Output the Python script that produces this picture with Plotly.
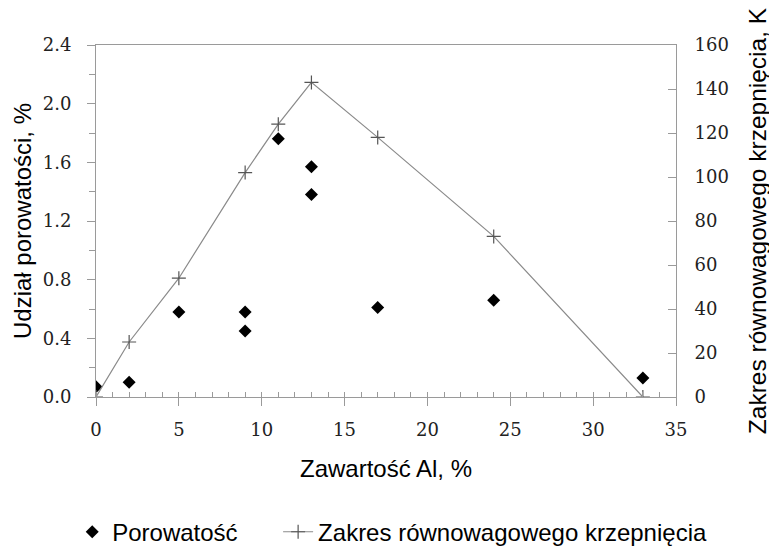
import plotly.graph_objects as go

# Porosity data (left axis)
por_x = [0, 2, 5, 9, 9, 11, 13, 13, 17, 24, 33]
por_y = [0.07, 0.10, 0.58, 0.58, 0.45, 1.76, 1.57, 1.38, 0.61, 0.66, 0.13]

# Equilibrium solidification range (right axis)
rng_x = [0, 2, 5, 9, 11, 13, 17, 24, 33]
rng_y = [0, 25, 54, 102, 124, 143, 118, 73, 0]

x_ticks = [0, 5, 10, 15, 20, 25, 30, 35]
y1_ticks = [0.0, 0.4, 0.8, 1.2, 1.6, 2.0, 2.4]
y2_ticks = [0, 20, 40, 60, 80, 100, 120, 140, 160]

serif = "DejaVu Serif"
sans = "Liberation Sans"
axis_col = "#9a9a9a"
tick_size = 18

fig = go.Figure()
fig.add_trace(go.Scatter(
    x=por_x, y=por_y, mode="markers", name="Porowatość",
    marker=dict(symbol="diamond", size=10, color="black"),
    yaxis="y", legend="legend"))
fig.add_trace(go.Scatter(
    x=rng_x, y=rng_y, mode="lines+markers", name="Zakres równowagowego krzepnięcia",
    line=dict(color="#8a8a8a", width=1.2),
    marker=dict(symbol="cross-thin", size=10, color="#555555",
                line=dict(color="#555555", width=1.2)),
    yaxis="y2", legend="legend2"))

leg_common = dict(orientation="h", xanchor="left", y=-0.384, yanchor="middle",
                  font=dict(family=sans, size=24, color="black"),
                  bgcolor="rgba(0,0,0,0)")

fig.update_layout(
    width=769, height=538,
    margin=dict(l=88, r=101, t=37, b=149, autoexpand=False),
    paper_bgcolor="white", plot_bgcolor="white",
    font=dict(family=serif),
    showlegend=True,
    legend=dict(x=-0.041, **leg_common),
    legend2=dict(x=0.314, **leg_common),
    xaxis=dict(
        range=[0, 35], tickvals=x_ticks, ticktext=[str(v) for v in x_ticks],
        showgrid=False, zeroline=False,
        showline=True, linecolor=axis_col, linewidth=1, mirror=True,
        ticks="outside", ticklen=8, tickcolor=axis_col, tickwidth=1,
        minor=dict(dtick=1, ticks="inside", ticklen=5, tickcolor=axis_col, tickwidth=1),
        tickfont=dict(family=serif, size=tick_size, color="#222"),
        ticklabelstandoff=8,
        title=dict(text="Zawartość Al, %", font=dict(family=sans, size=24, color="black"),
                   standoff=21),
        automargin=False),
    yaxis=dict(
        range=[0, 2.4], tickvals=y1_ticks, ticktext=["%.1f" % v for v in y1_ticks],
        showgrid=False, zeroline=False,
        showline=True, linecolor=axis_col, linewidth=1,
        ticks="outside", ticklen=8, tickcolor=axis_col, tickwidth=1,
        minor=dict(dtick=0.2, ticks="outside", ticklen=6, tickcolor=axis_col, tickwidth=1),
        tickfont=dict(family=serif, size=tick_size, color="#222"),
        ticklabelstandoff=12,
        title=dict(text="Udział porowatości, %", font=dict(family=sans, size=24, color="black"),
                   standoff=4),
        automargin=False),
    yaxis2=dict(
        range=[0, 160], tickvals=y2_ticks, ticktext=[str(v) for v in y2_ticks],
        overlaying="y", side="right",
        showgrid=False, zeroline=False,
        showline=True, linecolor=axis_col, linewidth=1,
        ticks="inside", ticklen=8, tickcolor=axis_col, tickwidth=1,
        tickfont=dict(family=serif, size=tick_size, color="#222"),
        ticklabelstandoff=14,
        title=dict(text="Zakres równowagowego krzepnięcia, K",
                   font=dict(family=sans, size=24.5, color="black"), standoff=20),
        automargin=False),
)

fig.write_html("out.html")
